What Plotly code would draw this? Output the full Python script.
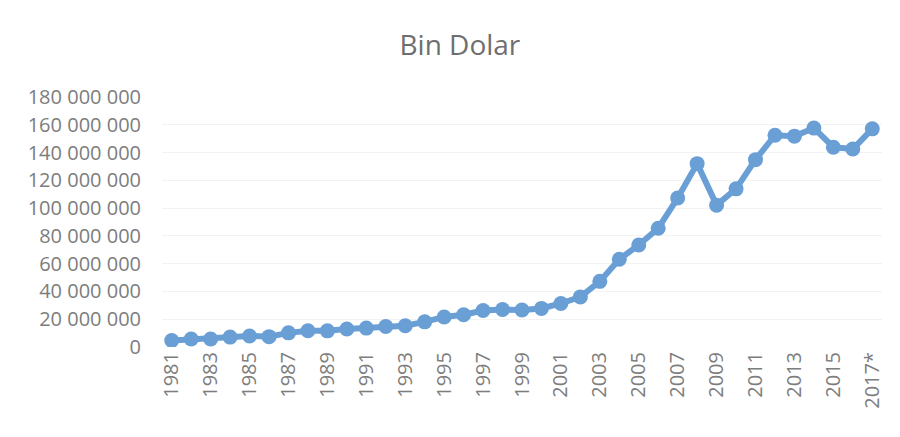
import plotly.graph_objects as go

years = [str(y) for y in range(1981, 2017)] + ["2017*"]
values = [4703000, 5746000, 5728000, 7134000, 7958000, 7457000, 10190000, 11662000,
          11625000, 12959000, 13594000, 14715000, 15345000, 18106000, 21637000, 23224000,
          26261000, 26974000, 26587000, 27775000, 31334000, 36059000, 47253000, 63167000,
          73476000, 85535000, 107272000, 132027000, 102143000, 113883000, 134907000,
          152462000, 151803000, 157610000, 143839000, 142530000, 157055000]
tick_labels = years[::2]
y_ticks = list(range(0, 180000001, 20000000))

FONT = "Open Sans"
fig = go.Figure()
fig.add_trace(go.Scatter(
    x=years, y=values, mode="lines+markers",
    line=dict(color="#6A9FD6", width=6),
    marker=dict(color="#6A9FD6", size=15),
    showlegend=False,
))
fig.update_layout(
    width=900, height=437,
    margin=dict(l=162, r=18, t=97, b=90),
    paper_bgcolor="white", plot_bgcolor="white",
    separators=", ",
    title=dict(text="Bin Dolar", x=0.511, xref="container", xanchor="center",
               y=0.897, yref="container", yanchor="middle",
               font=dict(family=FONT, size=28, color="#6e6e6e")),
    font=dict(family=FONT, color="#7d7d7d"),
    xaxis=dict(type="category", tickvals=tick_labels, ticktext=tick_labels,
               range=[-0.5, len(years) - 0.5], autorange=False,
               tickangle=-90, tickfont=dict(size=20, color="#7d7d7d"),
               showgrid=False, showline=False, zeroline=False, ticks="",
               automargin=False),
    yaxis=dict(range=[0, 180000000], tickvals=y_ticks, tickformat=",d",
               tickfont=dict(size=20, color="#7d7d7d"),
               showgrid=True, gridcolor="#f3f3f3", gridwidth=1,
               zeroline=False, showline=False, ticks="", ticklabelstandoff=20,
               automargin=False),
)
fig.write_html("out.html")
